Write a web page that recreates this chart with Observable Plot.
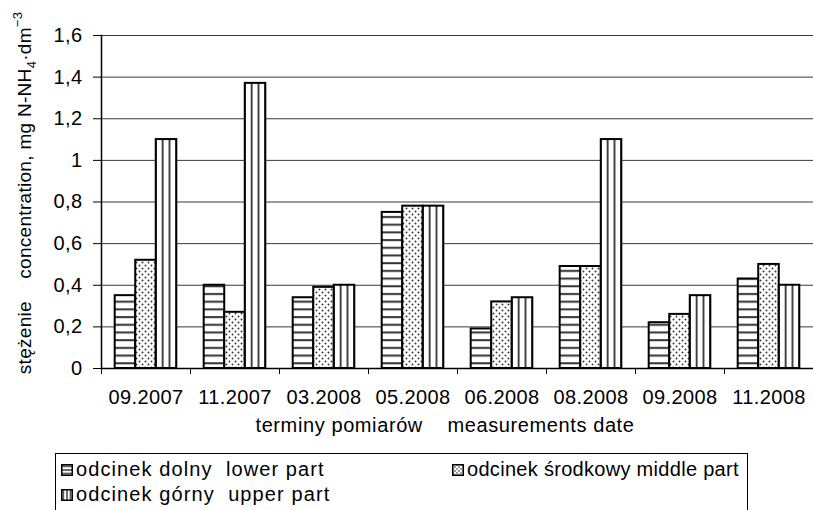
<!DOCTYPE html>
<html><head><meta charset="utf-8">
<script src="https://cdn.jsdelivr.net/npm/d3@7"></script>
<script src="https://cdn.jsdelivr.net/npm/@observablehq/plot@0.6"></script>
<style>
body{margin:0;background:#fff;font-family:"Liberation Sans",Arial,sans-serif;}
#wrap{position:relative;width:813px;height:510px;overflow:hidden;background:#fff;}
#legend{position:absolute;left:55px;top:453px;width:693px;height:90px;border:1px solid #000;box-sizing:border-box;}
.item{position:absolute;font-size:20px;white-space:pre;display:flex;align-items:center;letter-spacing:1.1px;color:#000;}
.item svg{margin-right:3px;}
</style></head><body>
<svg width="0" height="0" style="position:absolute">
<defs>
<pattern id="pH" patternUnits="userSpaceOnUse" x="0" y="0" width="10" height="7.7"><rect width="10" height="7.7" fill="#fff"/><rect y="3" width="10" height="2" fill="#333"/></pattern>
<pattern id="pM" patternUnits="userSpaceOnUse" x="0" y="0" width="6" height="6"><rect width="6" height="6" fill="#fff"/><circle cx="1.5" cy="1.5" r="0.95" fill="#333"/><circle cx="4.5" cy="4.5" r="0.95" fill="#333"/></pattern>
<pattern id="pV" patternUnits="userSpaceOnUse" x="0" y="0" width="6.846" height="10"><rect width="6.846" height="10" fill="#fff"/><rect x="0" width="1.8" height="10" fill="#333"/></pattern>
<pattern id="lH" patternUnits="userSpaceOnUse" x="0" y="0.5" width="10" height="3.6"><rect width="10" height="3.6" fill="#fff"/><rect y="1.2" width="10" height="1.3" fill="#222"/></pattern>
<pattern id="lM" patternUnits="userSpaceOnUse" x="0" y="0" width="4" height="4"><rect width="4" height="4" fill="#fff"/><circle cx="1" cy="1" r="0.8" fill="#222"/><circle cx="3" cy="3" r="0.8" fill="#222"/></pattern>
<pattern id="lV" patternUnits="userSpaceOnUse" x="0.5" y="0" width="3.6" height="10"><rect width="3.6" height="10" fill="#fff"/><rect x="1.2" width="1.3" height="10" fill="#222"/></pattern>
</defs></svg>
<div id="wrap"><div id="chart"></div><div id="legend"></div></div>
<script>
const dates = ["09.2007","11.2007","03.2008","05.2008","06.2008","08.2008","09.2008","11.2008"];
const lower  = [0.35, 0.40, 0.34, 0.75, 0.19, 0.49, 0.22, 0.43];
const middle = [0.52, 0.27, 0.39, 0.78, 0.32, 0.49, 0.26, 0.50];
const upper  = [1.10, 1.37, 0.40, 0.78, 0.34, 1.10, 0.35, 0.40];
const yTicks = [0, 0.2, 0.4, 0.6, 0.8, 1, 1.2, 1.4, 1.6];
const seriesNames = ["odcinek dolny  lower part", "odcinek środkowy middle part", "odcinek górny  upper part"];
const xTitle = "terminy pomiarów    measurements date";

const W = 813, H = 445, ML = 101, MR = 0, MT = 35, MB = 77;
const step = (W - ML - MR) / dates.length;
const p = step / 13, bw = 3 * p, pad = (step - 3 * bw) / 2;

// align vertical stripe pattern with upper bars
document.getElementById("pV").setAttribute("x", ML + pad + 2 * bw - 0.9);
document.getElementById("pH").setAttribute("y", (H - MB) % 7.7 - 1);

const rows = dates.map((d, i) => ({date: d, lower: lower[i], middle: middle[i], upper: upper[i]}));
const barOpts = {stroke: "#000", strokeWidth: 2};

const chart = Plot.plot({
  width: W, height: H, marginLeft: ML, marginRight: MR, marginTop: MT, marginBottom: MB,
  style: {fontFamily: "'Liberation Sans', Arial, sans-serif", fontSize: "20px", color: "#000", background: "#fff", overflow: "visible", letterSpacing: "0.4px"},
  x: {domain: dates, padding: 0, label: null},
  y: {domain: [0, 1.6], label: null},
  marks: [
    Plot.ruleY(yTicks.slice(1), {stroke: "#3a3a3a", strokeWidth: 1}),
    Plot.barY(rows, {x: "date", y: "lower", fill: "url(#pH)", ...barOpts, insetLeft: pad, insetRight: step - pad - bw}),
    Plot.barY(rows, {x: "date", y: "middle", fill: "url(#pM)", ...barOpts, insetLeft: pad + bw, insetRight: step - pad - 2 * bw}),
    Plot.barY(rows, {x: "date", y: "upper", fill: "url(#pV)", ...barOpts, insetLeft: pad + 2 * bw, insetRight: pad}),
    Plot.ruleY([0], {stroke: "#000", strokeWidth: 1.5}),
    Plot.frame({anchor: "left", stroke: "#000", strokeWidth: 1.5}),
    Plot.axisY({ticks: yTicks, tickSize: 8, tickPadding: 11, tickFormat: d => String(d).replace(".", ","), fontSize: 20, label: null}),
    Plot.axisX({tickSize: 6, dx: -step / 2, tickFormat: () => "", label: null}),
    Plot.axisX({tickSize: 0, tickPadding: 21, fontSize: 20, label: null})
  ]
});
document.getElementById("chart").appendChild(chart);

const svg = d3.select(chart);
svg.append("text")
  .attr("x", 445).attr("y", 432)
  .attr("text-anchor", "middle").attr("font-size", 20)
  .style("white-space", "pre").style("letter-spacing", "0.6px").attr("xml:space", "preserve")
  .attr("fill", "#000").text(xTitle);

const yl = svg.append("text")
  .attr("transform", "translate(31,193) rotate(-90)")
  .attr("text-anchor", "middle").attr("font-size", 19)
  .style("white-space", "pre").style("letter-spacing", "0.3px").attr("xml:space", "preserve").attr("fill", "#000");
yl.append("tspan").text("stężenie    concentration, mg N-NH");
yl.append("tspan").attr("font-size", 13).attr("dy", 5).text("4");
yl.append("tspan").attr("dy", -5).text("·dm");
yl.append("tspan").attr("font-size", 13).attr("dy", -9).text("−3");

// legend
const legend = document.getElementById("legend");
const legendPats = ["lH", "lM", "lV"];
const legendPos = [[5, 4], [396, 4], [5, 29]];
const legendSpacing = ["1.1px", "0.3px", "1.1px"];
seriesNames.forEach((name, i) => {
  const div = document.createElement("div");
  div.className = "item";
  div.style.left = legendPos[i][0] + "px";
  div.style.top = legendPos[i][1] + "px";
  div.style.letterSpacing = legendSpacing[i];
  div.innerHTML = `<svg width="12" height="12"><rect x="0.75" y="0.75" width="10.5" height="10.5" fill="url(#${legendPats[i]})" stroke="#000" stroke-width="1.5"/></svg>`;
  div.appendChild(document.createTextNode(name));
  legend.appendChild(div);
});
</script>
</body></html>
